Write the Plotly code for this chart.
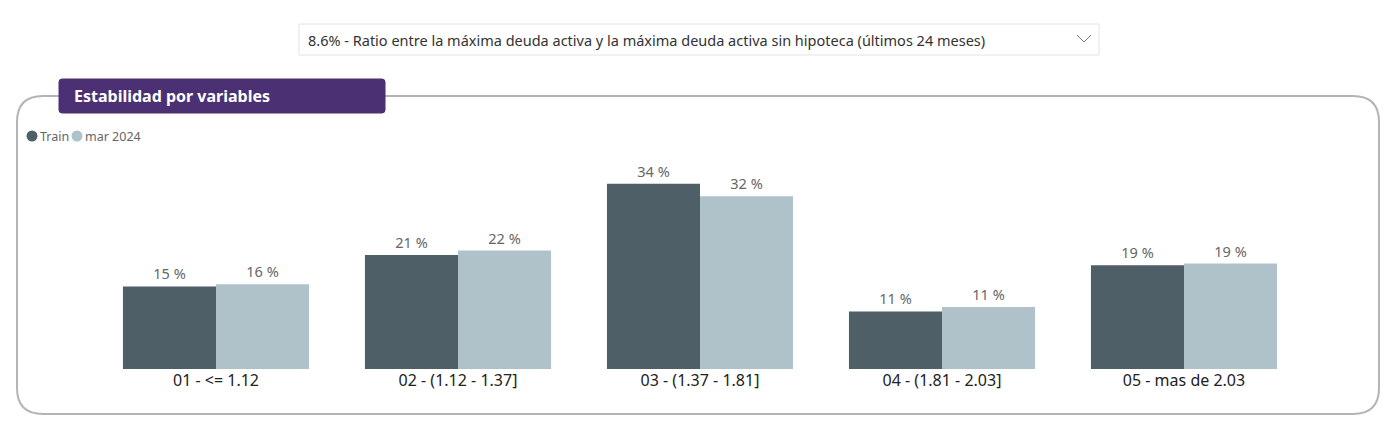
import plotly.graph_objects as go

# page body has an 8px margin, so the figure is placed at (8, 8)
OFF = 8
W, H = 1372, 418

categories = ["01 - <= 1.12", "02 - (1.12 - 1.37]", "03 - (1.37 - 1.81]",
              "04 - (1.81 - 2.03]", "05 - mas de 2.03"]
series_names = ["Train", "mar 2024"]
train_pct = [15.2, 21.0, 34.1, 10.6, 19.1]
mar2024_pct = [15.6, 21.8, 31.8, 11.4, 19.4]
colors = ["#4f5f68", "#afc2c9"]

title_text = "Estabilidad por variables"
dropdown_text = "8.6% - Ratio entre la máxima deuda activa y la máxima deuda activa sin hipoteca (últimos 24 meses)"

FONT = "Noto Sans"


def px(x):
    return (x - OFF) / W


def py(y):
    return 1 - (y - OFF) / H


def rounded_path(x0, y0, x1, y1, r):
    return (f"M {px(x0 + r)},{py(y0)} L {px(x1 - r)},{py(y0)} "
            f"Q {px(x1)},{py(y0)} {px(x1)},{py(y0 + r)} L {px(x1)},{py(y1 - r)} "
            f"Q {px(x1)},{py(y1)} {px(x1 - r)},{py(y1)} L {px(x0 + r)},{py(y1)} "
            f"Q {px(x0)},{py(y1)} {px(x0)},{py(y1 - r)} L {px(x0)},{py(y0 + r)} "
            f"Q {px(x0)},{py(y0)} {px(x0 + r)},{py(y0)} Z")


fig = go.Figure()
for name, vals, col in zip(series_names, [train_pct, mar2024_pct], colors):
    fig.add_trace(go.Bar(
        x=categories, y=vals, name=name, marker=dict(color=col, line=dict(width=0)),
        text=vals, texttemplate="%{y:.0f} %", textposition="outside",
        textfont=dict(family=FONT, size=14.5, color="#666666"),
        cliponaxis=False, showlegend=False,
    ))

fig.update_layout(
    width=W, height=H,
    margin=dict(l=0, r=0, t=0, b=0),
    paper_bgcolor="white", plot_bgcolor="white",
    barmode="group", bargap=0.231, bargroupgap=0,
    font=dict(family=FONT),
    xaxis=dict(domain=[px(95), px(1305)], showgrid=False, showline=False,
               ticks="", tickfont=dict(family=FONT, size=16, color="#222222"),
               automargin=False),
    yaxis=dict(domain=[py(369), py(150)], range=[0, 40.3], visible=False,
               automargin=False),
)

shapes = []
# card outline
shapes.append(dict(type="path", xref="paper", yref="paper",
                   path=rounded_path(17, 96, 1379, 414, 26),
                   line=dict(color="#b4b4b4", width=2), layer="below"))
# title box
shapes.append(dict(type="path", xref="paper", yref="paper",
                   path=rounded_path(59, 79, 385, 113, 3),
                   fillcolor="#4b3173", line=dict(color="#4b3173", width=1)))
# dropdown box
shapes.append(dict(type="rect", xref="paper", yref="paper",
                   x0=px(299), x1=px(1099), y0=py(55), y1=py(24),
                   fillcolor="white", line=dict(color="#e4e4e4", width=1)))
# chevron
shapes.append(dict(type="path", xref="paper", yref="paper",
                   path=f"M {px(1077)},{py(35)} L {px(1084)},{py(42)} L {px(1091)},{py(35)}",
                   line=dict(color="#777777", width=1)))
# legend dots
legend_x = [32, 77]
for lx, col in zip(legend_x, colors):
    shapes.append(dict(type="circle", xref="paper", yref="paper",
                       x0=px(lx - 5.5), x1=px(lx + 5.5), y0=py(141.5), y1=py(130.5),
                       fillcolor=col, line=dict(width=0)))

annotations = [
    dict(text=dropdown_text, xref="paper", yref="paper", x=px(306), y=py(40),
         xanchor="left", yanchor="middle", showarrow=False,
         font=dict(family=FONT, size=14.5, color="#333333")),
    dict(text=f"<b>{title_text}</b>", xref="paper", yref="paper", x=px(72), y=py(96),
         xanchor="left", yanchor="middle", showarrow=False,
         font=dict(family=FONT, size=16, color="white")),
]
for lx, name in zip(legend_x, series_names):
    annotations.append(dict(text=name, xref="paper", yref="paper", x=px(lx + 6), y=py(136),
                            xanchor="left", yanchor="middle", showarrow=False,
                            font=dict(family=FONT, size=12.5, color="#666666")))

fig.update_layout(shapes=shapes, annotations=annotations)
fig.write_html("out.html")
